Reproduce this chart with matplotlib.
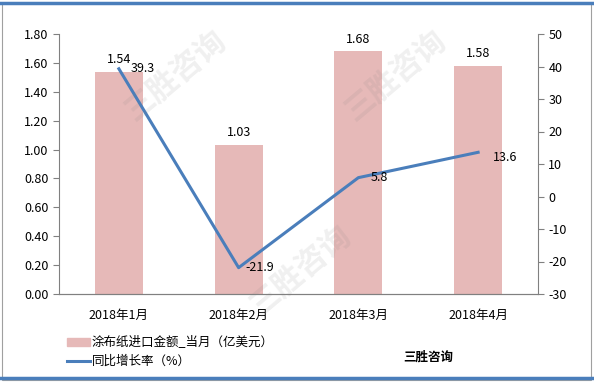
import numpy as np
import matplotlib.pyplot as plt
from matplotlib.lines import Line2D
from matplotlib.patches import Rectangle

plt.rcParams['font.family'] = ['Noto Sans CJK SC', 'DejaVu Sans']
plt.rcParams['axes.unicode_minus'] = False

months = ['2018年1月', '2018年2月', '2018年3月', '2018年4月']
amount = [1.54, 1.03, 1.68, 1.58]
growth = [39.3, -21.9, 5.8, 13.6]

bar_color = '#E6B9B8'
line_color = '#4A7EBB'

fig = plt.figure(figsize=(5.94, 3.82), dpi=100)

ax = fig.add_axes([59/594, 1 - 294/382, 479/594, 260/382])
x = np.arange(len(months))
ax.bar(x, amount, width=0.4, color=bar_color, zorder=2)
ax.set_xlim(-0.5, 3.5)
ax.set_ylim(0, 1.8)
ax.set_yticks(np.arange(0, 1.81, 0.2))
ax.set_yticklabels(['%.2f' % v for v in np.arange(0, 1.81, 0.2)])
ax.set_xticks(x)
ax.set_xticklabels(months)
for xi, v in zip(x, amount):
    ax.text(xi, v + 0.04, '%.2f' % v, ha='center', va='bottom', fontsize=9)

ax2 = ax.twinx()
ax2.plot(x, growth, color=line_color, lw=2.2, zorder=3)
ax2.set_ylim(-30, 50)
ax2.set_yticks(range(-30, 51, 10))
offsets = [(0.1, 0), (0.06, 0), (0.1, 0), (0.125, -1.5)]
for xi, v, (dx, dy) in zip(x, growth, offsets):
    ax2.text(xi + dx, v + dy, '%.1f' % v, ha='left', va='center', fontsize=9)

for a in (ax, ax2):
    a.spines['top'].set_visible(False)
    for s in a.spines.values():
        s.set_color('#808080')
        s.set_linewidth(0.8)
    a.tick_params(axis='y', colors='#808080', labelcolor='black', labelsize=9, length=4)
ax2.spines['left'].set_visible(False)
ax.spines['right'].set_visible(False)
ax.tick_params(axis='x', length=0, labelsize=9, pad=11)

# faint watermarks
for wx, wy in [(175/594, 1 - 75/382), (395/594, 1 - 75/382), (300/594, 1 - 270/382)]:
    fig.text(wx, wy, '三胜咨询', fontsize=22, color='gray', alpha=0.12, rotation=40,
             ha='center', va='center', fontweight='bold', zorder=5)

# legend
fig.patches.append(Rectangle((67/594, 1 - 346/382), 23/594, 8/382, color=bar_color,
                             transform=fig.transFigure, figure=fig))
fig.text(92/594, 1 - 342/382, '涂布纸进口金额_当月（亿美元）', fontsize=9, va='center')
fig.add_artist(Line2D([67/594, 90/594], [1 - 361/382, 1 - 361/382], color=line_color,
                      lw=2.2, transform=fig.transFigure))
fig.text(92/594, 1 - 361/382, '同比增长率（%）', fontsize=9, va='center')
fig.text(403/594, 1 - 357/382, '三胜咨询', fontsize=9, va='center', fontweight='bold')

# frame
fig.patches.append(Rectangle((2/594, 2/382), 589/594, 377/382, fill=False, ec='#A0A0A0',
                             lw=0.8, transform=fig.transFigure, figure=fig))
fig.add_artist(Line2D([0, 1], [1 - 3/382, 1 - 3/382], color='#4A7EBB', lw=2.5,
                      transform=fig.transFigure))
fig.add_artist(Line2D([0, 1], [1 - 378/382, 1 - 378/382], color='#4A7EBB', lw=2.5,
                      transform=fig.transFigure))

fig.savefig('out.png', dpi=100)
